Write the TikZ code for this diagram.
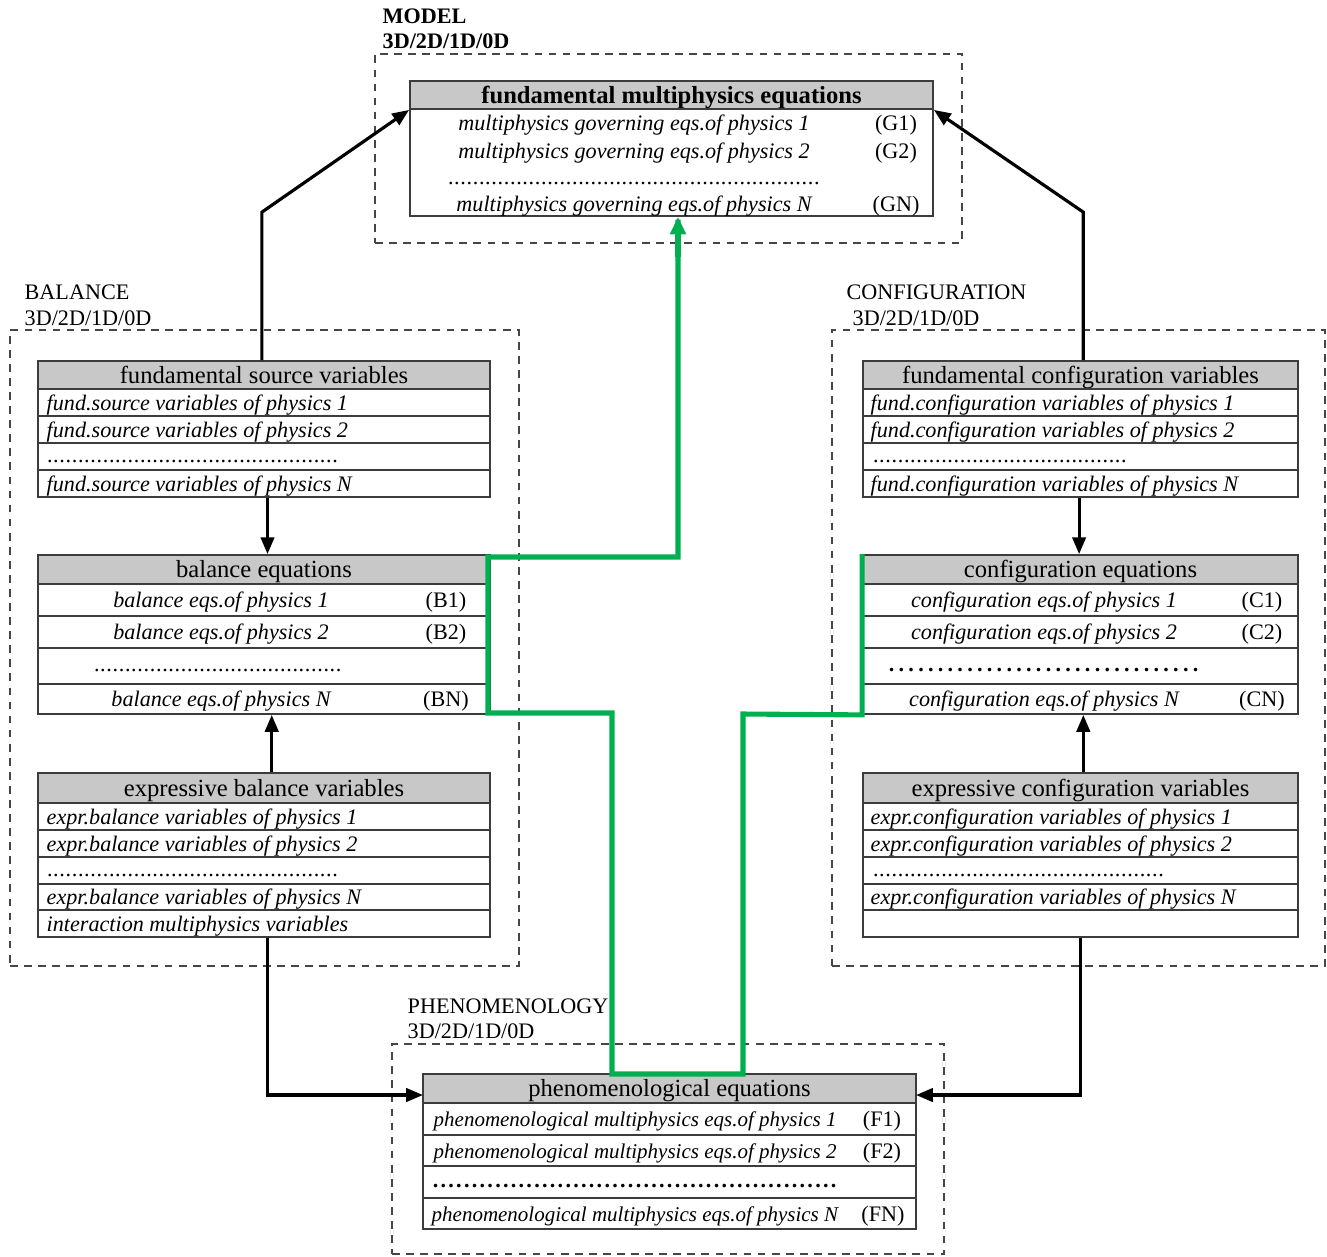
\documentclass[tikz,border=0pt]{standalone}
\usepackage{fontspec}
\setmainfont{Liberation Serif}
\usetikzlibrary{arrows.meta,fit,calc}
\definecolor{hdrgray}{RGB}{200,200,200}
\definecolor{lgreen}{RGB}{0,176,80}
\definecolor{bord}{RGB}{60,60,60}
\definecolor{dashc}{RGB}{70,70,70}
\newcommand\dotrow[2]{\hbox to #1{\leaders\hbox to #2{\hss.\hss}\hfill}}
\begin{document}
\begin{tikzpicture}[x=0.01cm,y=-0.01cm,
  tbox/.style={draw=bord, line width=0.5pt, inner sep=0pt, fit={#1}},
  hdr/.style={tbox={#1}, fill=hdrgray},
  htxt/.style={font=\fontsize{7}{8}\selectfont, inner sep=0pt, text height=5.6pt, text depth=1.0pt},
  itxt/.style={font=\fontsize{6.3}{7.5}\selectfont\itshape, inner sep=0pt, text height=5.2pt, text depth=0.9pt},
  ptxt/.style={font=\fontsize{5.97}{7.2}\selectfont\itshape, inner sep=0pt, text height=5.2pt, text depth=0.9pt},
  rtxt/.style={font=\fontsize{6.3}{7.5}\selectfont, inner sep=0pt, text height=5.2pt, text depth=0.9pt},
  grp/.style={draw=dashc, line width=0.45pt, dash pattern=on 2.2pt off 1.8pt},
  glab/.style={font=\fontsize{6.3}{7.5}\selectfont, inner sep=0pt, anchor=west},
  arr/.style={line width=0.9pt, -{Triangle[length=4.8pt,width=3.8pt]}},
  gline/.style={draw=lgreen, line width=1.45pt, line join=miter}
]
\useasboundingbox (0,0) rectangle (1327,1256);

% ---------- group frames ----------
\node[grp, inner sep=0pt, fit={(375,54) (962,243)}] (gM) {};
\node[grp, inner sep=0pt, fit={(10,330) (519,966)}] (gB) {};
\node[grp, inner sep=0pt, fit={(832,330) (1325,966)}] (gC) {};
\node[grp, inner sep=0pt, fit={(392,1044) (944,1254)}] (gP) {};

\node[glab, font=\fontsize{6.3}{7.5}\selectfont\bfseries] (lM1) at (382,16) {MODEL};
\node[glab, font=\fontsize{6.3}{7.5}\selectfont\bfseries] (lM2) at (382,41) {3D/2D/1D/0D};
\node[glab] (lB1) at (24,292) {BALANCE};
\node[glab] (lB2) at (24,318) {3D/2D/1D/0D};
\node[glab] (lC1) at (846,292) {CONFIGURATION};
\node[glab] (lC2) at (852,318) {3D/2D/1D/0D};
\node[glab] (lP1) at (407,1006) {PHENOMENOLOGY};
\node[glab] (lP2) at (407,1031) {3D/2D/1D/0D};

% ---------- model table ----------
\node[hdr={(410,81) (933,109)}] (mH) {};
\node[htxt, font=\fontsize{7}{8}\selectfont\bfseries] (mHt) at (mH.center) {fundamental multiphysics equations};
\node[tbox={(410,109) (933,216)}] (mB) {};
\node[itxt] (m1) at (634,123) {multiphysics governing eqs.of physics 1};
\node[itxt] (m2) at (634,151) {multiphysics governing eqs.of physics 2};
\node[rtxt, anchor=west] (m3) at (447,177) {\dotrow{3.73cm}{0.062cm}};
\node[itxt] (m4) at (634,204) {multiphysics governing eqs.of physics N};
\node[rtxt] (m1l) at (896,123) {(G1)};
\node[rtxt] (m2l) at (896,151) {(G2)};
\node[rtxt] (m4l) at (896,204) {(GN)};

% ---------- fundamental source variables ----------
\node[hdr={(38,361) (490,389)}] (fsH) {};
\node[htxt] (fsHt) at (fsH.center) {fundamental source variables};
\node[tbox={(38,389) (490,416)}] (fs1) {};
\node[tbox={(38,416) (490,443)}] (fs2) {};
\node[tbox={(38,443) (490,470)}] (fs3) {};
\node[tbox={(38,470) (490,497)}] (fs4) {};
\node[itxt, anchor=west] (fs1t) at (46,402.5) {fund.source variables of physics 1};
\node[itxt, anchor=west] (fs2t) at (46,429.5) {fund.source variables of physics 2};
\node[rtxt, anchor=west] (fs3t) at (46,455) {\dotrow{2.94cm}{0.062cm}};
\node[itxt, anchor=west] (fs4t) at (46,483.5) {fund.source variables of physics N};

% ---------- balance equations ----------
\node[hdr={(38,555) (490,584)}] (beH) {};
\node[htxt] (beHt) at (beH.center) {balance equations};
\node[tbox={(38,584) (490,616)}] (be1) {};
\node[tbox={(38,616) (490,648)}] (be2) {};
\node[tbox={(38,648) (490,684)}] (be3) {};
\node[tbox={(38,684) (490,714)}] (be4) {};
\node[itxt] (be1t) at (221,600) {balance eqs.of physics 1};
\node[itxt] (be2t) at (221,632) {balance eqs.of physics 2};
\node[rtxt, anchor=west] (be3t) at (93,664) {\dotrow{2.54cm}{0.062cm}};
\node[itxt] (be4t) at (221,699) {balance eqs.of physics N};
\node[rtxt] (be1l) at (446,600) {(B1)};
\node[rtxt] (be2l) at (446,632) {(B2)};
\node[rtxt] (be4l) at (446,699) {(BN)};

% ---------- expressive balance variables ----------
\node[hdr={(38,773) (490,803)}] (ebH) {};
\node[htxt] (ebHt) at (ebH.center) {expressive balance variables};
\node[tbox={(38,803) (490,830)}] (eb1) {};
\node[tbox={(38,830) (490,857)}] (eb2) {};
\node[tbox={(38,857) (490,884)}] (eb3) {};
\node[tbox={(38,884) (490,910)}] (eb4) {};
\node[tbox={(38,910) (490,937)}] (eb5) {};
\node[itxt, anchor=west] (eb1t) at (46,816.5) {expr.balance variables of physics 1};
\node[itxt, anchor=west] (eb2t) at (46,843.5) {expr.balance variables of physics 2};
\node[rtxt, anchor=west] (eb3t) at (46,869) {\dotrow{2.94cm}{0.062cm}};
\node[itxt, anchor=west] (eb4t) at (46,897) {expr.balance variables of physics N};
\node[itxt, anchor=west] (eb5t) at (46,923.5) {interaction multiphysics variables};

% ---------- fundamental configuration variables ----------
\node[hdr={(863,361) (1298,389)}] (fcH) {};
\node[htxt] (fcHt) at (fcH.center) {fundamental configuration variables};
\node[tbox={(863,389) (1298,416)}] (fc1) {};
\node[tbox={(863,416) (1298,443)}] (fc2) {};
\node[tbox={(863,443) (1298,470)}] (fc3) {};
\node[tbox={(863,470) (1298,497)}] (fc4) {};
\node[itxt, anchor=west] (fc1t) at (870,402.5) {fund.configuration variables of physics 1};
\node[itxt, anchor=west] (fc2t) at (870,429.5) {fund.configuration variables of physics 2};
\node[rtxt, anchor=west] (fc3t) at (872,455) {\dotrow{2.55cm}{0.062cm}};
\node[itxt, anchor=west] (fc4t) at (870,483.5) {fund.configuration variables of physics N};

% ---------- configuration equations ----------
\node[hdr={(863,555) (1298,584)}] (ceH) {};
\node[htxt] (ceHt) at (ceH.center) {configuration equations};
\node[tbox={(863,584) (1298,616)}] (ce1) {};
\node[tbox={(863,616) (1298,648)}] (ce2) {};
\node[tbox={(863,648) (1298,684)}] (ce3) {};
\node[tbox={(863,684) (1298,714)}] (ce4) {};
\node[itxt] (ce1t) at (1044,600) {configuration eqs.of physics 1};
\node[itxt] (ce2t) at (1044,632) {configuration eqs.of physics 2};
\node[rtxt, anchor=west, font=\fontsize{6.3}{7.5}\selectfont\bfseries] (ce3t) at (886,664) {\dotrow{3.18cm}{0.098cm}};
\node[itxt] (ce4t) at (1044,699) {configuration eqs.of physics N};
\node[rtxt] (ce1l) at (1262,600) {(C1)};
\node[rtxt] (ce2l) at (1262,632) {(C2)};
\node[rtxt] (ce4l) at (1262,699) {(CN)};

% ---------- expressive configuration variables ----------
\node[hdr={(863,773) (1298,803)}] (ecH) {};
\node[htxt] (ecHt) at (ecH.center) {expressive configuration variables};
\node[tbox={(863,803) (1298,830)}] (ec1) {};
\node[tbox={(863,830) (1298,857)}] (ec2) {};
\node[tbox={(863,857) (1298,884)}] (ec3) {};
\node[tbox={(863,884) (1298,910)}] (ec4) {};
\node[tbox={(863,910) (1298,937)}] (ec5) {};
\node[itxt, anchor=west] (ec1t) at (870,816.5) {expr.configuration variables of physics 1};
\node[itxt, anchor=west] (ec2t) at (870,843.5) {expr.configuration variables of physics 2};
\node[rtxt, anchor=west] (ec3t) at (872,869) {\dotrow{2.94cm}{0.062cm}};
\node[itxt, anchor=west] (ec4t) at (870,897) {expr.configuration variables of physics N};

% ---------- phenomenological equations ----------
\node[hdr={(423,1074) (916,1103)}] (phH) {};
\node[htxt] (phHt) at (phH.center) {phenomenological equations};
\node[tbox={(423,1103) (916,1135)}] (ph1) {};
\node[tbox={(423,1135) (916,1166)}] (ph2) {};
\node[tbox={(423,1166) (916,1198)}] (ph3) {};
\node[tbox={(423,1198) (916,1229)}] (ph4) {};
\node[ptxt, anchor=west] (ph1t) at (433,1119) {phenomenological multiphysics eqs.of physics 1};
\node[ptxt, anchor=west] (ph2t) at (433,1150.5) {phenomenological multiphysics eqs.of physics 2};
\node[rtxt, anchor=west, font=\fontsize{6.3}{7.5}\selectfont\bfseries] (ph3t) at (431,1180) {\dotrow{4.06cm}{0.078cm}};
\node[ptxt, anchor=west] (ph4t) at (431,1213.5) {phenomenological multiphysics eqs.of physics N};
\node[rtxt] (ph1l) at (882,1119) {(F1)};
\node[rtxt] (ph2l) at (882,1150.5) {(F2)};
\node[rtxt] (ph4l) at (883,1213.5) {(FN)};

% ---------- black connectors ----------
\coordinate (phL) at (423,1095);
\coordinate (phR) at (916,1095);
\draw[arr] ([xshift=-0.6pt]fsH.north) -- ++(0,-148) -- (mH.south west);
\draw[arr] ([xshift=0.8pt]fcH.north) -- ++(0,-148) -- (mH.south east);
\draw[arr] ([xshift=1pt]fs4.south) -- ([xshift=1pt]beH.north);
\draw[arr] ([xshift=2.2pt]ebH.north) -- ([xshift=2.2pt]be4.south);
\draw[arr] ([xshift=-0.4pt]fc4.south) -- ([xshift=-0.4pt]ceH.north);
\draw[arr] ([xshift=0.8pt]ecH.north) -- ([xshift=0.8pt]ce4.south);
\draw[arr] ([xshift=1.1pt]eb5.south) |- (phL);
\draw[arr] (ec5.south) |- (phR);

% ---------- green path ----------
\coordinate (g1) at (743,714);
\coordinate (g2) at (743,1074);
\coordinate (g3) at (612,1074);
\coordinate (g4) at (612,713);
\coordinate (g5) at (488,713);
\coordinate (g6) at (488,557);
\coordinate (g7) at (678,557);
\draw[gline] (ceH.north west) -- (ce4.south west) -- (g1) -- (g2) -- (g3) -- (g4) -- (g5) -- (g6) -- (g7) -- ([yshift=-0.8pt]g7 |- mB.south);
\draw[draw=lgreen, line width=1.45pt, -{Triangle[length=5pt,width=4.4pt]}] ($(g7)+(0,-300)$) -- (g7 |- mB.south);
\end{tikzpicture}
\end{document}
